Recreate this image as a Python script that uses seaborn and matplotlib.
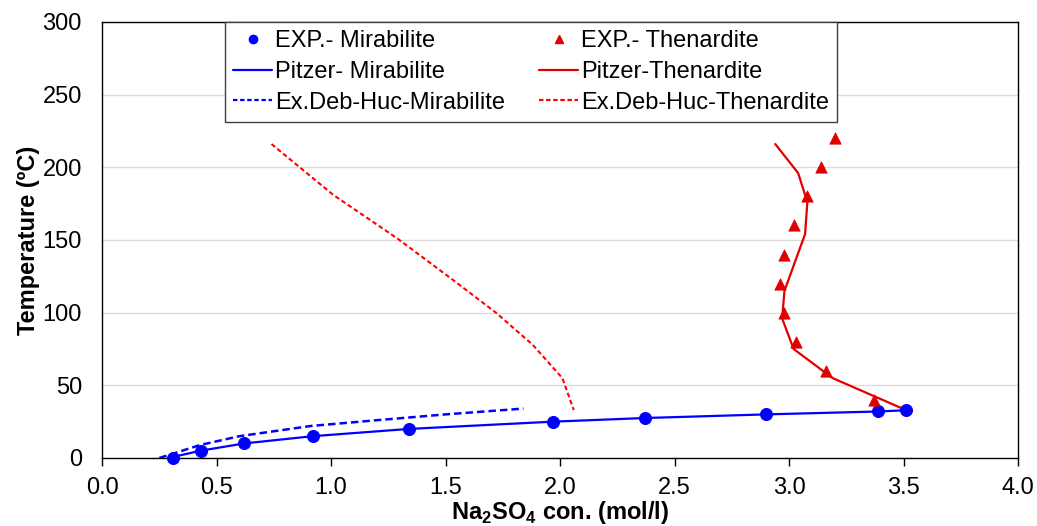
import numpy as np
import pandas as pd
import matplotlib
matplotlib.use("Agg")
import matplotlib.pyplot as plt
from matplotlib.lines import Line2D
import seaborn as sns

# experimental solubility points
mir_exp_conc = [0.31, 0.43, 0.62, 0.92, 1.34, 1.97, 2.37, 2.90, 3.39, 3.51]
mir_exp_temp = [0, 5, 10, 15, 20, 25, 27.5, 30, 32, 33]
then_exp_conc = [3.20, 3.14, 3.08, 3.02, 2.98, 2.96, 2.98, 3.03, 3.16, 3.37]
then_exp_temp = [220, 200, 180, 160, 140, 120, 100, 80, 60, 40]

# Pitzer model curves
mir_pitz_conc = [0.29, 0.43, 0.62, 0.92, 1.34, 1.97, 2.37, 2.90, 3.39, 3.53]
mir_pitz_temp = [0, 5, 10, 15, 20, 25, 27.5, 30, 32, 33]
then_pitz_conc = [3.51, 3.19, 3.02, 2.97, 2.98, 3.07, 3.08, 3.04, 2.94]
then_pitz_temp = [33, 55, 75, 96, 115, 154, 176, 196, 216]

# extended Debye-Huckel curves
mir_dh_conc = [0.25, 0.43, 0.60, 0.91, 1.20, 1.50, 1.84]
mir_dh_temp = [0, 9, 15, 22, 26, 30, 34]
then_dh_conc = [0.74, 1.01, 1.29, 1.52, 1.72, 1.88, 2.01, 2.06]
then_dh_temp = [216, 181, 151, 124, 100, 78, 55, 33]

blue = "#0000FF"
red = "#E00000"
red_dash = "#FF0000"

sns.set_style("white")
plt.rcParams["font.family"] = ["Liberation Sans", "DejaVu Sans"]
plt.rcParams["mathtext.fontset"] = "custom"
plt.rcParams["mathtext.rm"] = "Liberation Sans"
plt.rcParams["mathtext.bf"] = "Liberation Sans:bold"
plt.rcParams["text.color"] = "black"
plt.rcParams["axes.labelcolor"] = "black"
plt.rcParams["xtick.color"] = "black"
plt.rcParams["ytick.color"] = "black"

fig = plt.figure(figsize=(10.37, 5.26), dpi=100)
ax = fig.add_axes([0.0984, 0.1293, 0.8833, 0.8289])

sns.lineplot(x=mir_pitz_conc, y=mir_pitz_temp, sort=False, color=blue, lw=1.6, ax=ax)
sns.lineplot(x=then_pitz_conc, y=then_pitz_temp, sort=False, color=red, lw=1.6, ax=ax)
sns.lineplot(x=mir_dh_conc, y=mir_dh_temp, sort=False, color=blue, lw=1.8, ax=ax,
             linestyle=(0, (3, 1.6)))
sns.lineplot(x=then_dh_conc, y=then_dh_temp, sort=False, color=red_dash, lw=1.5, ax=ax,
             linestyle=(0, (2.2, 1.4)))
sns.scatterplot(x=mir_exp_conc, y=mir_exp_temp, color=blue, marker="o", s=75,
                edgecolor=blue, ax=ax, zorder=5, clip_on=False)
sns.scatterplot(x=then_exp_conc, y=then_exp_temp, color=red, marker="^", s=65,
                edgecolor=red, ax=ax, zorder=5, clip_on=False)

ax.set_xlim(0, 4)
ax.set_ylim(0, 300)
ax.set_xticks(np.arange(0, 4.01, 0.5))
ax.set_xticklabels([f"{v:.1f}" for v in np.arange(0, 4.01, 0.5)])
ax.set_yticks(np.arange(0, 301, 50))
ax.yaxis.grid(True, color="#DCDCDC", lw=1)
ax.xaxis.grid(False)
ax.set_axisbelow(True)
for s in ax.spines.values():
    s.set_color("black")
    s.set_linewidth(1)
ax.tick_params(axis="x", length=6, width=1, color="black", pad=8, labelsize=17, direction="out", bottom=True)
ax.tick_params(axis="y", length=0, pad=14.5, labelsize=17)

ax.set_ylabel("Temperature (ºC)", fontsize=17, fontweight="bold", labelpad=2)
ax.set_xlabel(r"Na$_{\mathbf{2}}$SO$_{\mathbf{4}}$ con. (mol/l)", fontsize=17,
              fontweight="bold", labelpad=0)

handles = [
    Line2D([], [], color=blue, marker="o", ls="none", markersize=6),
    Line2D([], [], color=blue, lw=1.6),
    Line2D([], [], color=blue, lw=1.6, ls=(0, (2, 1.2))),
    Line2D([], [], color=red, marker="^", ls="none", markersize=6),
    Line2D([], [], color=red, lw=1.6),
    Line2D([], [], color=red_dash, lw=1.6, ls=(0, (2, 1.2))),
]
labels = ["EXP.- Mirabilite", "Pitzer- Mirabilite", "Ex.Deb-Huc-Mirabilite",
          "EXP.- Thenardite", "Pitzer-Thenardite", "Ex.Deb-Huc-Thenardite"]
leg = ax.legend(handles, labels, ncol=2, loc="upper left", bbox_to_anchor=(0.134, 1.0),
                borderaxespad=0, fontsize=17, frameon=True, fancybox=False,
                edgecolor="#404040", framealpha=1, handlelength=1.65, handletextpad=0.12,
                columnspacing=1.45, labelspacing=0.37, borderpad=0.35)
leg.get_frame().set_linewidth(1)

fig.savefig("out.png", dpi=100)
